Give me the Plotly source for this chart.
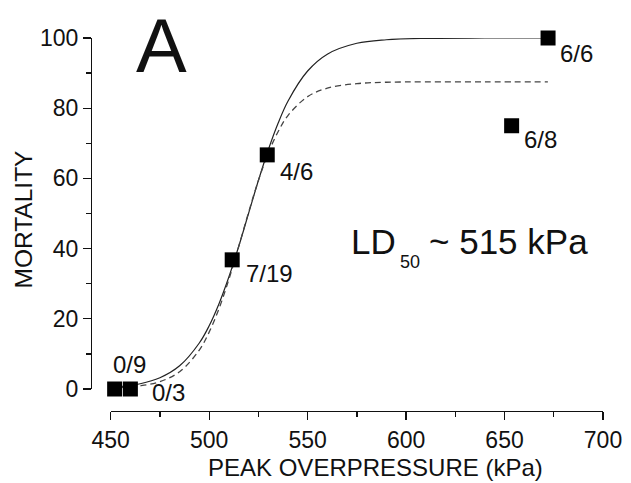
import plotly.graph_objects as go

# ---------------- data ----------------
PRESSURE_KPA = [452, 460, 511.7, 529.5, 653.6, 672.1]
MORTALITY_PCT = [0, 0, 36.8, 66.7, 75, 100]
GROUP_LABELS = ["0/9", "0/3", "7/19", "4/6", "6/8", "6/6"]

CURVE_KPA = [455, 465, 475, 485, 495, 500, 505, 510, 515, 520, 525, 530,
             535, 540, 550, 560, 575, 590, 610, 640, 672]
SOLID_FIT = [0.7, 1.5, 3.2, 6.6, 13.1, 18.0, 24.3, 31.9, 40.6, 50.0, 59.4, 68.1,
             75.7, 82.0, 90.6, 95.4, 98.5, 99.5, 99.9, 100, 100]
DASHED_FIT = [0.4, 0.9, 2.1, 4.9, 11.1, 16.2, 22.9, 31.2, 40.6, 50.3, 59.4, 67.2,
              73.3, 77.9, 83.3, 85.7, 87.0, 87.4, 87.5, 87.5, 87.5]

X_TICKS = [450, 500, 550, 600, 650, 700]
Y_TICKS = [0, 20, 40, 60, 80, 100]

# ---------------- layout / style ----------------
W, H = 631, 483
ML, MT = 91, 38
MR = W - 603
MB = H - 411
PW, PH = W - ML - MR, H - MT - MB
FONT = "Liberation Sans, Arial, sans-serif"
INK = "#111111"

# label offsets in pixels (right, up) relative to each marker
LABEL_DX = [15, 38, 37, 29, 29, 28]
LABEL_DY = [25, -3, -14, -17, -14, -15]


def px(x, y):
    """pixel position in the picture -> paper coords"""
    return (x - ML) / PW, (H - MB - y) / PH


fig = go.Figure()

fig.add_trace(go.Scatter(
    x=CURVE_KPA, y=SOLID_FIT, mode="lines", line_shape="spline",
    line=dict(color="#222222", width=1.2), hoverinfo="skip", showlegend=False))
fig.add_trace(go.Scatter(
    x=CURVE_KPA, y=DASHED_FIT, mode="lines", line_shape="spline",
    line=dict(color="#444444", width=1.3, dash="6px,4px"),
    hoverinfo="skip", showlegend=False))
fig.add_trace(go.Scatter(
    x=PRESSURE_KPA, y=MORTALITY_PCT, mode="markers",
    marker=dict(symbol="square", size=15, color="#000000", line=dict(width=0)),
    cliponaxis=False, showlegend=False))

annotations = []
for xv, yv, lab, dx, dy in zip(PRESSURE_KPA, MORTALITY_PCT, GROUP_LABELS, LABEL_DX, LABEL_DY):
    annotations.append(dict(x=xv, y=yv, xref="x", yref="y", text=lab, showarrow=False,
                            xanchor="center", yanchor="middle", xshift=dx, yshift=dy,
                            font=dict(family=FONT, size=24, color=INK)))

ax, ay = px(161.7, 45.0)
annotations.append(dict(x=ax, y=ay, xref="paper", yref="paper", text="A", showarrow=False,
                        xanchor="center", yanchor="middle",
                        font=dict(family=FONT, size=76, color=INK)))

lx, ly = px(349, 241.8)
annotations.append(dict(x=lx, y=ly, xref="paper", yref="paper", text="LD", showarrow=False,
                        xanchor="left", yanchor="middle",
                        font=dict(family=FONT, size=35, color=INK)))
sx, sy = px(398, 261.9)
annotations.append(dict(x=sx, y=sy, xref="paper", yref="paper", text="50", showarrow=False,
                        xanchor="left", yanchor="middle",
                        font=dict(family=FONT, size=18, color=INK)))
tx, ty = px(427, 241.8)
annotations.append(dict(x=tx, y=ty, xref="paper", yref="paper", text="~ 515 kPa",
                        showarrow=False, xanchor="left", yanchor="middle",
                        font=dict(family=FONT, size=35, color=INK)))

xt, yt = px(375.5, 467)
annotations.append(dict(x=xt, y=yt, xref="paper", yref="paper",
                        text="PEAK OVERPRESSURE (kPa)", showarrow=False,
                        xanchor="center", yanchor="middle",
                        font=dict(family=FONT, size=24, color=INK)))
yx, yy = px(22.5, 220)
annotations.append(dict(x=yx, y=yy, xref="paper", yref="paper", text="MORTALITY",
                        showarrow=False, textangle=-90, xanchor="center", yanchor="middle",
                        font=dict(family=FONT, size=24.5, color=INK)))

x_dom0 = px(110.7, 0)[0]
y_dom0 = px(0, 389)[1]

fig.update_layout(
    template="none",
    width=W, height=H,
    margin=dict(l=ML, r=MR, t=MT, b=MB, pad=0),
    paper_bgcolor="white", plot_bgcolor="white",
    font=dict(family=FONT, color=INK),
    showlegend=False,
    annotations=annotations,
    xaxis=dict(
        domain=[x_dom0, 1], range=[450, 700], anchor="free", position=0,
        tickmode="array", tickvals=X_TICKS, ticktext=[str(v) for v in X_TICKS],
        ticks="outside", ticklen=8, tickwidth=1.3, tickcolor=INK,
        minor=dict(dtick=25, tick0=450, ticks="outside", ticklen=5, tickwidth=1.3,
                   tickcolor=INK, showgrid=False),
        showline=True, linecolor=INK, linewidth=1.3,
        showgrid=False, zeroline=False, automargin=False,
        tickfont=dict(family=FONT, size=23, color=INK)),
    yaxis=dict(
        domain=[y_dom0, 1], range=[0, 100], anchor="free", position=0,
        tickmode="array", tickvals=Y_TICKS, ticktext=[str(v) for v in Y_TICKS],
        ticks="outside", ticklen=8, tickwidth=1.3, tickcolor=INK,
        minor=dict(dtick=10, tick0=0, ticks="outside", ticklen=5, tickwidth=1.3,
                   tickcolor=INK, showgrid=False),
        showline=True, linecolor=INK, linewidth=1.3,
        showgrid=False, zeroline=False, automargin=False,
        tickfont=dict(family=FONT, size=23, color=INK)),
)

fig.write_html("out.html", config={"displayModeBar": False, "staticPlot": True},
               post_script="document.body.style.margin='0px';")
